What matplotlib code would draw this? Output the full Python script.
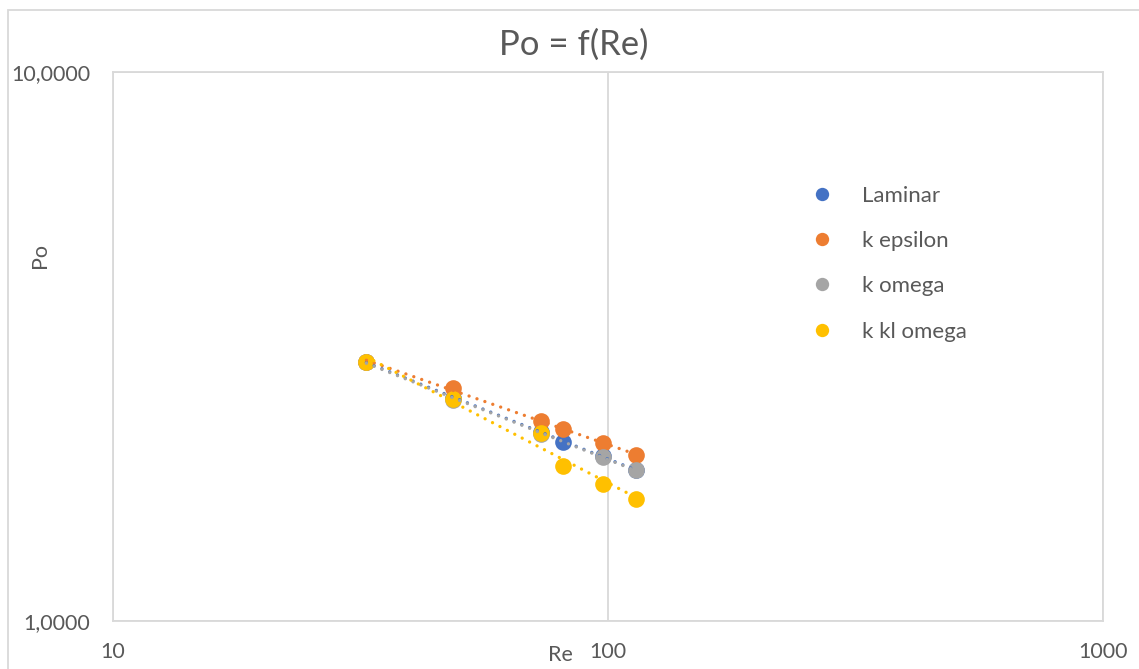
import numpy as np
import matplotlib.pyplot as plt
from matplotlib.ticker import FixedLocator, NullLocator

plt.rcParams['font.family'] = ['Lato', 'DejaVu Sans']

# Reynolds numbers and Poiseuille numbers per turbulence model
re_all = [32.5, 48.7, 73.2, 81.2, 97.6, 113.8]
re_omega = [32.5, 48.7, 73.2, 97.6, 113.8]

po_laminar = [2.967, 2.545, 2.21, 2.121, 1.995, 1.886]
po_k_epsilon = [2.967, 2.654, 2.316, 2.235, 2.112, 2.006]
po_k_omega = [2.967, 2.53, 2.19, 1.992, 1.884]
po_k_kl_omega = [2.967, 2.534, 2.197, 1.915, 1.774, 1.666]

series = [
    ("Laminar", re_all, po_laminar, "#4472C4"),
    ("k epsilon", re_all, po_k_epsilon, "#ED7D31"),
    ("k omega", re_omega, po_k_omega, "#A5A5A5"),
    ("k kl omega", re_all, po_k_kl_omega, "#FFC000"),
]

W, H = 1139, 669
fig = plt.figure(figsize=(W / 100, H / 100), dpi=100)
ax = fig.add_axes([113 / W, 1 - 621 / H, (1103 - 113) / W, (621 - 72) / H])

ax.set_xscale("log")
ax.set_yscale("log")
ax.set_xlim(10, 1000)
ax.set_ylim(1, 10)

# markers first, then power-law trendlines on top
for name, x, y, c in series:
    ax.plot(x, y, "o", ms=12, color=c, label=name, zorder=3, markeredgewidth=0)
for name, x, y, c in series:
    b, a = np.polyfit(np.log(x), np.log(y), 1)
    xs = np.linspace(min(x), max(x), 200)
    ax.plot(xs, np.exp(a) * xs ** b, color=c, lw=2.4,
            linestyle=(0, (0.01, 2.5)), dash_capstyle="round", zorder=4)

grid_c = "#D9D9D9"
ax.xaxis.set_major_locator(FixedLocator([10, 100, 1000]))
ax.xaxis.set_minor_locator(NullLocator())
ax.yaxis.set_major_locator(FixedLocator([1, 10]))
ax.yaxis.set_minor_locator(NullLocator())
ax.set_xticklabels(["10", "100", "1000"])
ax.set_yticklabels(["1,0000", "10,0000"])
ax.tick_params(length=0, labelsize=15.5, colors="#595959")
ax.tick_params(axis="y", pad=16.5)
ax.tick_params(axis="x", pad=15)
ax.grid(True, which="major", color=grid_c, lw=1.3)
for s in ax.spines.values():
    s.set_color(grid_c)
    s.set_linewidth(1.3)

fig.text(574 / W, 1 - 45 / H, "Po = f(Re)", ha="center", va="center",
         fontsize=25, color="#595959")
fig.text(40 / W, 1 - 255 / H, "Po", ha="center", va="center", rotation=90,
         fontsize=15.5, color="#595959")
fig.text(560 / W, 1 - 655 / H, "Re", ha="center", va="center",
         fontsize=15.5, color="#595959")

leg = ax.legend(loc="upper left", bbox_to_anchor=(796 / W, 1 - 170 / H),
                bbox_transform=fig.transFigure, frameon=False, fontsize=16,
                markerscale=0.8, handlelength=0.9, handletextpad=1.35,
                labelspacing=1.14, borderpad=0.2)
for t in leg.get_texts():
    t.set_color("#595959")

# light frame around the whole chart
fig.add_artist(plt.Rectangle((8 / W, -0.05), 1.1, 1 - 10 / H + 0.05,
                             transform=fig.transFigure, fill=False,
                             edgecolor=grid_c, lw=1.3))

fig.savefig("out.png", dpi=100)
